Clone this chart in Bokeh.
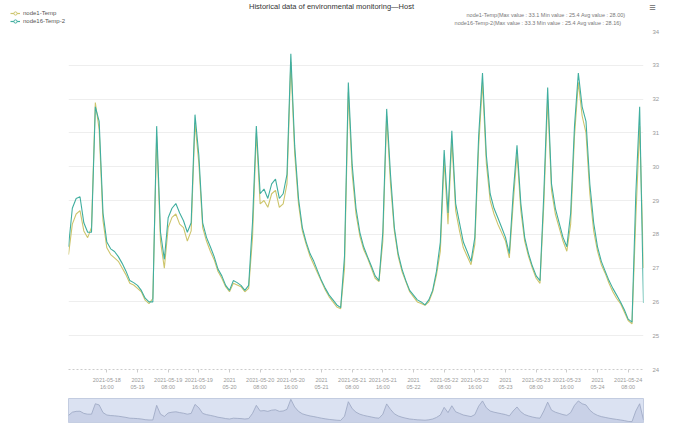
from bokeh.plotting import figure
from bokeh.models import Range1d, FixedTicker, Legend, LegendItem, Label, ColumnDataSource
from bokeh.layouts import column
from bokeh.embed import file_html
from bokeh.resources import INLINE

# ---------------- data (hourly samples from 2021-05-18 06:00) ----------------
title_text = "Historical data of environmental monitoring\u2014Host"
series_names = ["node1-Temp", "node16-Temp-2"]

temp_node1 = [
    27.4, 28.3, 28.6, 28.7, 28.1, 27.9, 28.2, 31.9, 31.1, 28.4,
    27.6, 27.4, 27.3, 27.2, 27.0, 26.8, 26.55, 26.5, 26.4, 26.3,
    26.05, 25.95, 26.1, 30.9, 27.8, 27.0, 28.2, 28.5, 28.6, 28.3,
    28.2, 27.8, 28.1, 31.3, 30.1, 28.2, 27.8, 27.5, 27.25, 26.9,
    26.7, 26.45, 26.3, 26.55, 26.5, 26.45, 26.3, 26.4, 27.9, 31.0,
    28.9, 29.0, 28.8, 29.2, 29.3, 28.8, 28.9, 29.5, 33.1, 30.4,
    28.9, 28.1, 27.7, 27.35, 27.1, 26.85, 26.6, 26.35, 26.15, 26.0,
    25.85, 25.8, 27.0, 32.2, 29.8, 28.6, 27.95, 27.55, 27.3, 27.0,
    26.7, 26.6, 27.8, 31.5, 29.5, 28.1, 27.35, 26.9, 26.6, 26.3,
    26.15, 26.0, 25.95, 25.9, 26.0, 26.3, 26.8, 27.5, 30.2, 28.3,
    30.8, 28.7, 28.1, 27.6, 27.35, 27.1, 27.7, 30.6, 32.5, 30.1,
    29.0, 28.6, 28.3, 28.05, 27.8, 27.3, 28.9, 30.4, 28.7, 27.8,
    27.35, 27.0, 26.7, 26.55, 28.9, 32.0, 29.3, 28.6, 28.2, 27.8,
    27.5, 28.3, 30.9, 32.5, 31.5, 31.0, 29.2, 28.1, 27.5, 27.1,
    26.85, 26.55, 26.3, 26.1, 25.95, 25.7, 25.45, 25.35, 28.5, 31.2,
    27.0,
]

temp_node16 = [
    27.63, 28.77, 29.06, 29.11, 28.34, 28.06, 28.06, 31.77, 31.34, 28.63,
    27.77, 27.57, 27.49, 27.34, 27.14, 26.91, 26.63, 26.57, 26.49, 26.34,
    26.11, 26.0, 26.0, 31.2, 28.06, 27.26, 28.49, 28.77, 28.91, 28.63,
    28.4, 28.06, 28.34, 31.54, 30.34, 28.34, 27.91, 27.63, 27.34, 26.97,
    26.77, 26.49, 26.34, 26.63, 26.57, 26.49, 26.34, 26.49, 28.34, 31.2,
    29.2, 29.34, 29.06, 29.49, 29.63, 29.06, 29.2, 29.77, 33.34, 30.63,
    29.06, 28.2, 27.77, 27.43, 27.2, 26.91, 26.63, 26.4, 26.2, 26.06,
    25.91, 25.83, 27.34, 32.49, 30.06, 28.77, 28.06, 27.63, 27.34, 27.06,
    26.77, 26.63, 28.06, 31.71, 29.77, 28.2, 27.43, 26.97, 26.63, 26.34,
    26.2, 26.06, 26.0, 25.91, 26.06, 26.34, 26.91, 27.77, 30.49, 28.63,
    31.06, 28.91, 28.34, 27.77, 27.49, 27.2, 27.91, 30.91, 32.77, 30.34,
    29.2, 28.77, 28.49, 28.2, 27.91, 27.43, 29.2, 30.63, 28.91, 27.91,
    27.43, 27.06, 26.77, 26.63, 29.2, 32.34, 29.49, 28.77, 28.34, 27.91,
    27.63, 28.63, 31.2, 32.77, 31.77, 31.34, 29.49, 28.34, 27.63, 27.2,
    26.91, 26.63, 26.4, 26.2, 26.0, 25.77, 25.49, 25.4, 29.2, 31.77,
    25.97,
]

hours = list(range(len(temp_node16)))

tick_hours = [10, 18, 26, 34, 42, 50, 58, 66, 74, 82, 90, 98, 106, 114, 122, 130, 138, 146]
tick_labels = [
    "2021-05-18\n16:00", "2021\n05-19", "2021-05-19\n08:00", "2021-05-19\n16:00",
    "2021\n05-20", "2021-05-20\n08:00", "2021-05-20\n16:00", "2021\n05-21",
    "2021-05-21\n08:00", "2021-05-21\n16:00", "2021\n05-22", "2021-05-22\n08:00",
    "2021-05-22\n16:00", "2021\n05-23", "2021-05-23\n08:00", "2021-05-23\n16:00",
    "2021\n05-24", "2021-05-24\n08:00",
]
y_ticks = [24, 25, 26, 27, 28, 29, 30, 31, 32, 33, 34]

# ---------------- styling ----------------
FONT = "Liberation Sans"
C1 = "#cdc56c"   # node1-Temp
C2 = "#40ae9f"   # node16-Temp-2

W = 662
H_HEAD = 28
H_MAIN = 364
H_SLIDER = 35
BL = 68     # left border of chart and slider
BR = 14     # right border of chart and slider

src = ColumnDataSource(dict(h=hours, t1=temp_node1, t2=temp_node16))


def stats(name, vals):
    return "%s(Max value : %.1f  Min value : %.1f  Avg value : %.2f)" % (
        name, max(vals), min(vals), sum(vals) / len(vals))


# ---------------- header: title, legend, statistics ----------------
hdr = figure(width=W, height=H_HEAD, output_backend="svg", toolbar_location=None, tools="",
             x_range=Range1d(0, W), y_range=Range1d(H_HEAD, 0),
             x_axis_location=None, y_axis_location=None, min_border=0)
try:
    hdr.frame_align = False
except Exception:
    pass
hdr.outline_line_color = None
hdr.grid.visible = False
hl1 = hdr.line(x=[-50, -40], y=[-50, -40], line_color=C1, line_width=1.2)
hm1 = hdr.scatter(x=[-50], y=[-50], marker="circle", size=4, fill_color="white", line_color=C1)
hl2 = hdr.line(x=[-50, -40], y=[-50, -40], line_color=C2, line_width=1.2)
hm2 = hdr.scatter(x=[-50], y=[-50], marker="circle", size=4, fill_color="white", line_color=C2)
legend = Legend(items=[LegendItem(label=series_names[0], renderers=[hl1, hm1]),
                       LegendItem(label=series_names[1], renderers=[hl2, hm2])],
                location=(10, 3), orientation="vertical", padding=0, spacing=0,
                margin=0, glyph_height=8, glyph_width=10, label_height=8,
                label_standoff=3, label_text_font_size="6px", label_text_font=FONT,
                label_text_color="#555555", background_fill_alpha=0,
                border_line_color=None)
hdr.add_layout(legend)
hdr.add_layout(Label(x=W / 2, y=1, text=title_text, text_align="center",
                     text_baseline="top", text_font_size="7.5px", text_font=FONT,
                     text_color="#333333"))
hdr.add_layout(Label(x=628, y=14, text=stats(series_names[0], temp_node1), text_align="right",
                     text_baseline="middle", text_font_size="5.5px", text_font=FONT,
                     text_color="#777777"))
hdr.add_layout(Label(x=624, y=22, text=stats(series_names[1], temp_node16), text_align="right",
                     text_baseline="middle", text_font_size="5.5px", text_font=FONT,
                     text_color="#777777"))
hdr.add_layout(Label(x=652, y=0, text="\u2261", text_align="center", text_baseline="top",
                     text_font_size="11px", text_font=FONT, text_color="#666666"))

# ---------------- main chart ----------------
p = figure(width=W, height=H_MAIN, output_backend="svg", toolbar_location=None, tools="",
           x_range=Range1d(hours[0], hours[-1]), y_range=Range1d(24, 34),
           y_axis_location="right", min_border_left=BL, min_border_right=BR,
           min_border_top=3, min_border_bottom=0)
p.outline_line_color = None

p.line("h", "t1", source=src, line_color=C1, line_width=1.1)
p.line("h", "t2", source=src, line_color=C2, line_width=1.1)

p.xgrid.visible = False
p.ygrid.grid_line_color = "#eeeeee"
p.ygrid.ticker = FixedTicker(ticks=y_ticks)

yax = p.yaxis[0]
yax.ticker = FixedTicker(ticks=y_ticks)
yax.axis_line_color = None
yax.major_tick_line_color = None
yax.minor_tick_line_color = None
yax.major_label_text_font_size = "6px"
yax.major_label_text_color = "#999999"
yax.major_label_text_font = FONT
yax.major_label_standoff = 3

xax = p.xaxis[0]
xax.ticker = FixedTicker(ticks=tick_hours)
xax.major_label_overrides = {h: s for h, s in zip(tick_hours, tick_labels)}
xax.axis_line_color = "#cccccc"
xax.axis_line_dash = "2 2"
xax.major_tick_line_color = "#cccccc"
xax.major_tick_in = 0
xax.major_tick_out = 3
xax.minor_tick_line_color = None
xax.major_label_text_font_size = "5.5px"
xax.major_label_text_color = "#999999"
xax.major_label_text_font = FONT
xax.major_label_standoff = 4

# ---------------- data zoom slider ----------------
lo = min(temp_node16)
hi = max(temp_node16)
s = figure(width=W, height=H_SLIDER, output_backend="svg", toolbar_location=None, tools="",
           x_range=Range1d(hours[0], hours[-1]), y_range=Range1d(lo - 0.3, hi + 0.3),
           x_axis_location=None, y_axis_location=None,
           min_border_left=BL, min_border_right=BR, min_border_top=6, min_border_bottom=5)
s.grid.visible = False
s.background_fill_color = "#dbe2f2"
s.border_fill_color = "white"
s.outline_line_color = "#c3cce0"
s.varea(x="h", y1=lo - 0.3, y2="t2", source=src, fill_color="#c9d1e7")
s.line("h", "t2", source=src, line_color="#9aa6c1", line_width=0.8)

layout = column(hdr, column(p, s))
open("out.html", "w").write(file_html(layout, INLINE))
